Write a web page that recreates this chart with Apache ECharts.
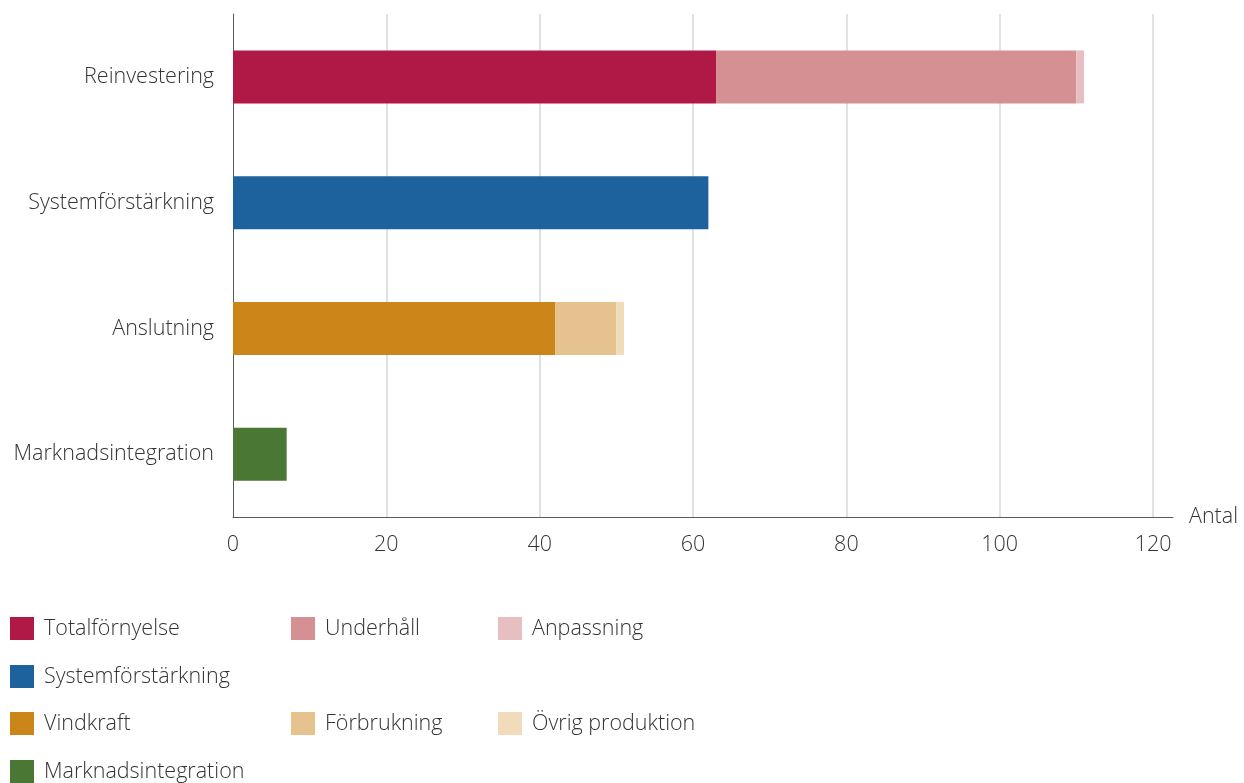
<!DOCTYPE html>
<html>
<head>
<meta charset="utf-8">
<script src="https://cdn.jsdelivr.net/npm/echarts@6/dist/echarts.min.js"></script>
<style>
  html, body { margin: 0; padding: 0; background: #fff; }
  #container { width: 1244px; height: 783px; }
</style>
</head>
<body>
<div id="container"></div>
<script>
var categories = ['Reinvestering', 'Systemförstärkning', 'Anslutning', 'Marknadsintegration'];

// one array per series, '-' where the series has no bar
var totalfornyelse = [63, '-', '-', '-'];
var underhall = [47, '-', '-', '-'];
var anpassning = [1, '-', '-', '-'];
var systemforstarkning = ['-', 62, '-', '-'];
var vindkraft = ['-', '-', 42, '-'];
var forbrukning = ['-', '-', 8, '-'];
var ovrigProduktion = ['-', '-', 1, '-'];
var marknadsintegration = ['-', '-', '-', 7];

var xTicks = [0, 20, 40, 60, 80, 100, 120];

var FONT = 'Open Sans';
var FS = 21.5;
var TEXT = '#333';

var seriesDefs = [
	{ name: 'Totalförnyelse', data: totalfornyelse, color: '#b01846' },
	{ name: 'Underhåll', data: underhall, color: '#d59094' },
	{ name: 'Anpassning', data: anpassning, color: '#e8bfc0' },
	{ name: 'Systemförstärkning', data: systemforstarkning, color: '#1d629c' },
	{ name: 'Vindkraft', data: vindkraft, color: '#cb8518' },
	{ name: 'Förbrukning', data: forbrukning, color: '#e6c38e' },
	{ name: 'Övrig produktion', data: ovrigProduktion, color: '#f1dbbb' },
	{ name: 'Marknadsintegration', data: marknadsintegration, color: '#4a7733' }
];

// legend positions (grid of rows/columns like the original)
var legendPos = [
	[10, 617], [291, 617], [498, 617],
	[10, 665],
	[10, 712], [291, 712], [498, 712],
	[10, 760]
];

var myChart = echarts.init(document.getElementById('container'));

var option = {
	animation: false,
	textStyle: { fontFamily: FONT },
	grid: { left: 233, right: 71, top: 14, bottom: 266 },
	legend: seriesDefs.map(function (s, i) {
		return {
			data: [s.name],
			left: legendPos[i][0],
			top: legendPos[i][1],
			itemWidth: 24,
			itemHeight: 23,
			itemGap: 0,
			icon: 'rect',
			selectedMode: false,
			padding: 0,
			textStyle: { fontFamily: FONT, fontWeight: 300, fontSize: FS, color: TEXT, padding: [0, 0, 0, 5] }
		};
	}),
	xAxis: {
		type: 'value',
		min: 0,
		max: 122.6,
		interval: 20,
		name: 'Antal',
		nameLocation: 'end',
		nameGap: 16,
		nameTextStyle: { fontFamily: FONT, fontWeight: 300, fontSize: FS, color: TEXT },
		axisLine: { show: true, lineStyle: { color: '#555a60', width: 1 } },
		axisTick: { show: false },
		axisLabel: {
			showMaxLabel: false,
			margin: 17,
			fontFamily: FONT,
			fontWeight: 300,
			fontSize: FS,
			color: TEXT,
			formatter: function (v) { return xTicks.indexOf(v) >= 0 ? String(v) : ''; }
		},
		splitLine: { show: true, showMinLine: false, showMaxLine: false, lineStyle: { color: '#dfe2e5', width: 2 } }
	},
	yAxis: {
		type: 'category',
		data: categories,
		inverse: true,
		axisLine: { show: true, lineStyle: { color: '#555a60', width: 1 } },
		axisTick: { show: false },
		axisLabel: { margin: 19, fontFamily: FONT, fontWeight: 300, fontSize: FS, color: TEXT, padding: [4, 0, 0, 0] },
		splitLine: { show: false }
	},
	series: seriesDefs.map(function (s) {
		return {
			name: s.name,
			type: 'bar',
			stack: 'total',
			barWidth: 53,
			data: s.data,
			itemStyle: { color: s.color },
			emphasis: { disabled: true }
		};
	})
};

myChart.setOption(option);
</script>
</body>
</html>
